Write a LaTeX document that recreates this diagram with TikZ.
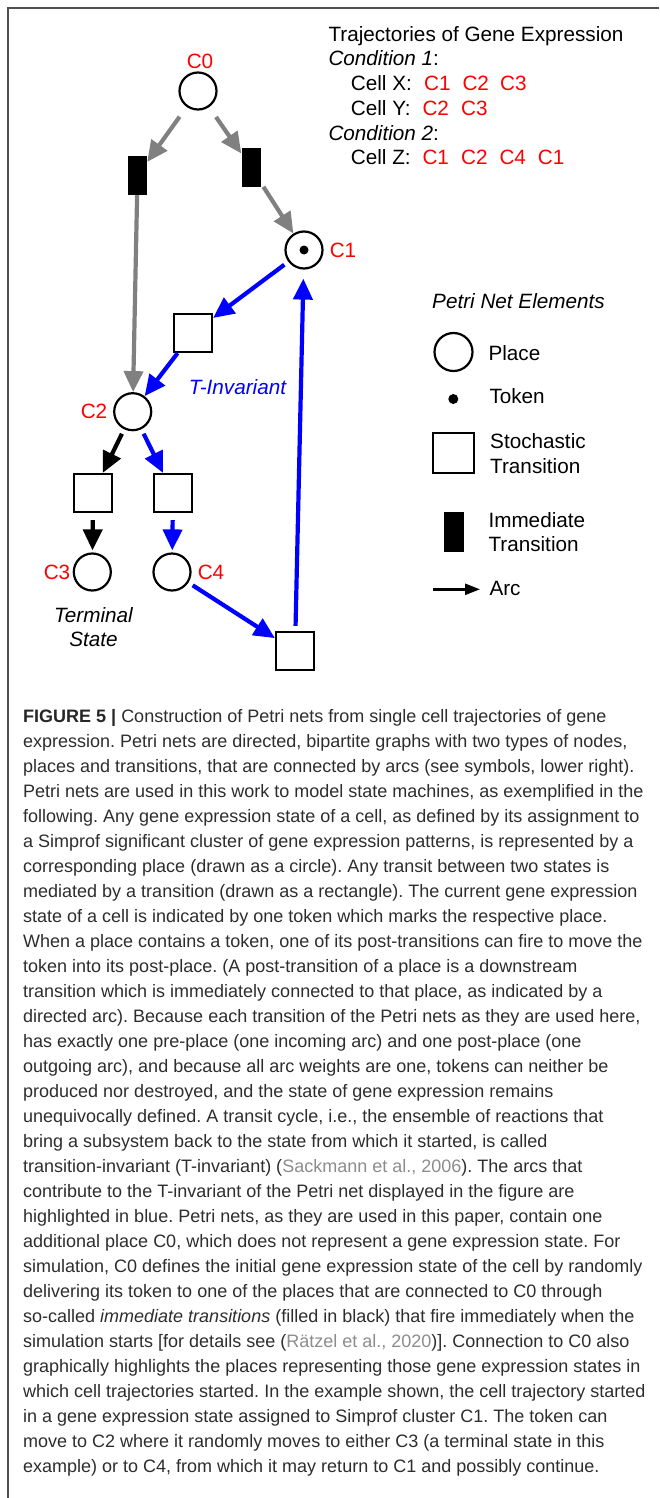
\documentclass[tikz,border=0pt]{standalone}
\usepackage{fontspec}
\setmainfont{Liberation Sans}
\usetikzlibrary{arrows.meta}
\frenchspacing

\definecolor{arcgray}{RGB}{128,128,128}
\definecolor{arcblue}{RGB}{0,0,255}
\definecolor{lblred}{RGB}{255,0,0}
\definecolor{captext}{RGB}{45,45,45}
\definecolor{citegray}{RGB}{140,140,140}
\definecolor{framegray}{RGB}{80,80,80}

\newcommand{\dfont}{\fontsize{20.7}{24}\selectfont}
\newcommand{\cfont}{\fontsize{18}{25}\selectfont}
\newcommand{\capline}[2]{\node[capstyle] (cap#1) at (23,{722+25*(#1-1)}) {#2};}
\newcommand{\citeref}[1]{\textcolor{citegray}{#1}}

\begin{document}
\begin{tikzpicture}[x=1pt,y=-1pt,
  place/.style={circle, draw, line width=2.2pt, minimum size=37pt, inner sep=0pt},
  tokendot/.style={circle, fill=black, minimum size=9pt, inner sep=0pt},
  stoch/.style={rectangle, draw, line width=2.2pt, minimum width=38pt, minimum height=38pt, inner sep=0pt},
  imm/.style={rectangle, fill=black, minimum width=19pt, minimum height=39pt, inner sep=0pt},
  arcbase/.style={line width=4.2pt, -{Triangle[length=21pt,width=19pt]}},
  arcg/.style={arcbase, draw=arcgray, fill=arcgray},
  arcb/.style={arcbase, draw=arcblue, fill=arcblue},
  arck/.style={arcbase, draw=black, fill=black},
  lbl/.style={text=lblred, font=\dfont, inner sep=0pt},
  dtext/.style={font=\dfont, inner sep=0pt, anchor=base west},
  redtext/.style={dtext, text=lblred},
  capstyle/.style={font=\cfont, text=captext, inner sep=0pt, anchor=base west}
]
\useasboundingbox (0,0) rectangle (659,1498);

% frame (top and left edges)
\draw[framegray, line width=1.5pt] (659,8) -- (8,8) -- (8,1498);

% ---------------- Petri net ----------------
\node[place] (c0) at (198,91) {};
\node[lbl] (c0lbl) at (200,61) {C0};

\node[imm] (i1) at (137.5,175.5) {};
\node[imm] (i2) at (251,167.5) {};

\node[place] (c1) at (304,250) {};
\node[tokendot] (tok) at (304,250) {};
\node[lbl] (c1lbl) at (343,250) {C1};

\node[stoch] (t1) at (193,333) {};

\node[place] (c2) at (132.7,411.7) {};
\node[lbl] (c2lbl) at (94,411.7) {C2};

\node[stoch] (t2) at (93,493) {};
\node[stoch] (t3) at (173,493) {};

\node[place] (c3) at (92.3,572) {};
\node[lbl] (c3lbl) at (57,572) {C3};
\node[place] (c4) at (172,572) {};
\node[lbl] (c4lbl) at (211,572) {C4};

\node[stoch] (t4) at (295,651) {};

\node[font=\dfont\itshape, text=arcblue, inner sep=0pt] (tinv) at (237.5,386.7) {T-Invariant};
\node[font=\dfont\itshape, inner sep=0pt, align=center] (term) at (93.5,627) {Terminal\\[-0.5pt]State};

% arcs
\draw[arcg, shorten <=12pt] (c0) -- (i1);
\draw[arcg, shorten <=12pt] (c0) -- (i2);
\draw[arcg, shorten <=5pt] (i2) -- (c1);
\draw[arcg] (i1) -- (c2);
\draw[arcb, shorten <=5pt] (c1) -- (t1);
\draw[arcb] (t1) -- (c2);
\draw[arck, shorten <=5pt] (c2) -- (t2);
\draw[arcb, shorten <=5pt] (c2) -- (t3);
\draw[arck, shorten <=7pt, shorten >=2pt] (t2) -- (c3);
\draw[arcb, shorten <=7pt, shorten >=2pt] (t3) -- (c4);
\draw[arcb, shorten <=5pt] (c4) -- (t4);
\draw[arcb, shorten <=5pt, shorten >=9pt] (t4) -- (c1);

% ---------------- trajectories ----------------
\node[dtext] (tr0) at (328.3,41.5) {Trajectories of Gene Expression};
\node[dtext] (tr1) at (328.3,66) {\textit{Condition 1}:};
\node[dtext] (tr2) at (350.7,91) {Cell X:};
\node[redtext] (tr2a) at (424,91) {C1};
\node[redtext] (tr2b) at (462.3,91) {C2};
\node[redtext] (tr2c) at (500,91) {C3};
\node[dtext] (tr3) at (350.7,115.5) {Cell Y:};
\node[redtext] (tr3a) at (422.3,115.5) {C2};
\node[redtext] (tr3b) at (461,115.5) {C3};
\node[dtext] (tr4) at (328.3,140.5) {\textit{Condition 2}:};
\node[dtext] (tr5) at (350.7,165) {Cell Z:};
\node[redtext] (tr5a) at (422.3,165) {C1};
\node[redtext] (tr5b) at (461,165) {C2};
\node[redtext] (tr5c) at (499.3,165) {C4};
\node[redtext] (tr5d) at (537.7,165) {C1};

% ---------------- legend ----------------
\node[dtext] (legtitle) at (432,308.3) {\textit{Petri Net Elements}};
\node[place, minimum size=38pt] (legplace) at (453.5,352) {};
\node[dtext] (legplacet) at (488.3,360) {Place};
\node[tokendot, minimum size=10pt] (legtoken) at (453.3,399) {};
\node[dtext] (legtokent) at (489.3,403.3) {Token};
\node[stoch, minimum width=41pt, minimum height=40pt] (legstoch) at (453.8,453.3) {};
\node[dtext] (legstocht) at (490,448.3) {Stochastic};
\node[dtext] (legstocht2) at (490,473.3) {Transition};
\node[imm, minimum width=20pt, minimum height=40pt] (legimm) at (454.2,531.7) {};
\node[dtext] (legimmt) at (488.3,527.3) {Immediate};
\node[dtext] (legimmt2) at (488.3,551.7) {Transition};
\coordinate (legarcA) at (433.3,589.3);
\coordinate (legarcB) at (480,589.3);
\draw[line width=2.4pt, -{Triangle[length=15pt,width=11pt]}] (legarcA) -- (legarcB);
\node[dtext] (legarct) at (489.3,595.7) {Arc};

% ---------------- caption ----------------
\capline{1}{\textbf{\textcolor{black!85}{FIGURE 5 |}} Construction of Petri nets from single cell trajectories of gene}
\capline{2}{expression. Petri nets are directed, bipartite graphs with two types of nodes,}
\capline{3}{places and transitions, that are connected by arcs (see symbols, lower right).}
\capline{4}{Petri nets are used in this work to model state machines, as exemplified in the}
\capline{5}{following. Any gene expression state of a cell, as defined by its assignment to}
\capline{6}{a Simprof significant cluster of gene expression patterns, is represented by a}
\capline{7}{corresponding place (drawn as a circle). Any transit between two states is}
\capline{8}{mediated by a transition (drawn as a rectangle). The current gene expression}
\capline{9}{state of a cell is indicated by one token which marks the respective place.}
\capline{10}{When a place contains a token, one of its post-transitions can fire to move the}
\capline{11}{token into its post-place. (A post-transition of a place is a downstream}
\capline{12}{transition which is immediately connected to that place, as indicated by a}
\capline{13}{directed arc). Because each transition of the Petri nets as they are used here,}
\capline{14}{has exactly one pre-place (one incoming arc) and one post-place (one}
\capline{15}{outgoing arc), and because all arc weights are one, tokens can neither be}
\capline{16}{produced nor destroyed, and the state of gene expression remains}
\capline{17}{unequivocally defined. A transit cycle, i.e., the ensemble of reactions that}
\capline{18}{bring a subsystem back to the state from which it started, is called}
\capline{19}{transition-invariant (T-invariant) (\citeref{Sackmann et al., 2006}). The arcs that}
\capline{20}{contribute to the T-invariant of the Petri net displayed in the figure are}
\capline{21}{highlighted in blue. Petri nets, as they are used in this paper, contain one}
\capline{22}{additional place C0, which does not represent a gene expression state. For}
\capline{23}{simulation, C0 defines the initial gene expression state of the cell by randomly}
\capline{24}{delivering its token to one of the places that are connected to C0 through}
\capline{25}{so-called \textit{immediate transitions} (filled in black) that fire immediately when the}
\capline{26}{simulation starts [for details see (\citeref{Rätzel et al., 2020})]. Connection to C0 also}
\capline{27}{graphically highlights the places representing those gene expression states in}
\capline{28}{which cell trajectories started. In the example shown, the cell trajectory started}
\capline{29}{in a gene expression state assigned to Simprof cluster C1. The token can}
\capline{30}{move to C2 where it randomly moves to either C3 (a terminal state in this}
\capline{31}{example) or to C4, from which it may return to C1 and possibly continue.}
\end{tikzpicture}
\end{document}
